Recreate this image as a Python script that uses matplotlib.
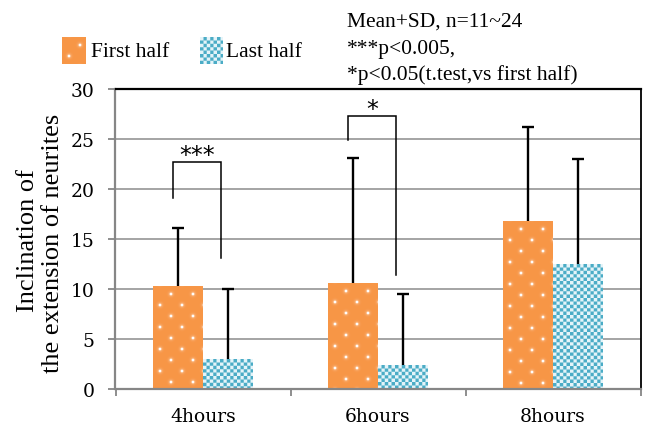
import numpy as np
import matplotlib
matplotlib.use("Agg")
import matplotlib.pyplot as plt

# ---- data -------------------------------------------------------------
categories = ["4hours", "6hours", "8hours"]
series_labels = ["First half", "Last half"]
first_half_mean = [10.3, 10.6, 16.8]
first_half_sd = [5.8, 12.5, 9.4]
last_half_mean = [3.0, 2.4, 12.5]
last_half_sd = [7.0, 7.1, 10.5]
y_ticks = [0, 5, 10, 15, 20, 25, 30]
note_lines = ["Mean+SD, n=11~24", "***p<0.005,", "*p<0.05(t.test,vs first half)"]

# significance brackets (category index, marker, left arm low end, bracket top, right arm low end)
sig_category = [0, 1]
sig_marks = ["***", "*"]
sig_left_low = [19.1, 24.9]
sig_top = [22.7, 27.3]
sig_right_low = [13.1, 11.4]

# ---- style ------------------------------------------------------------
ORANGE = np.array([247, 150, 70]) / 255.0
BLUE = np.array([75, 172, 198]) / 255.0
WHITE = np.array([1.0, 1.0, 1.0])
GRID = "#8c8c8c"
AXIS_GRAY = "#868686"
SERIF = ["Liberation Serif", "DejaVu Serif"]
TICK_FONT = ["DejaVu Serif"]

W, H = 648, 431


def dot_texture(wpx, hpx, ss=4):
    """Orange fill with small glowing white dots on a staggered lattice."""
    ys, xs = np.mgrid[0:hpx * ss, 0:wpx * ss]
    xs = (xs + 0.5) / ss
    ys = (ys + 0.5) / ss
    step = 11.0
    row = np.round((ys - 8.0) / step)
    cy = 8.0 + row * step
    shift = 7.0 + step * ((row.astype(int) + 1) % 2)
    cx = shift + np.round((xs - shift) / (2 * step)) * 2 * step
    d = np.hypot(xs - cx, ys - cy)
    a = np.clip(1.7 - d, 0, 1) * 0.95 + 0.4 * np.exp(-(d / 2.4) ** 2)
    a = np.clip(a, 0, 1)
    a = a.reshape(hpx, ss, wpx, ss).mean(axis=(1, 3))
    img = ORANGE[None, None, :] * (1 - a[..., None]) + WHITE[None, None, :] * a[..., None]
    return img


def checker_texture(wpx, hpx, ss=4, cell=3.4):
    """Small blue / white checkerboard."""
    ys, xs = np.mgrid[0:hpx * ss, 0:wpx * ss]
    xs = (xs + 0.5) / ss
    ys = (ys + 0.5) / ss
    c = ((np.floor(xs / cell) + np.floor(ys / cell)) % 2).astype(float)
    c = c.reshape(hpx, ss, wpx, ss).mean(axis=(1, 3))
    light = np.array([0.90, 0.96, 0.98])
    img = BLUE[None, None, :] * c[..., None] + light[None, None, :] * (1 - c[..., None])
    return img


def apply_texture(ax, patch, maker):
    x0, y0 = patch.get_x(), patch.get_y()
    x1, y1 = x0 + patch.get_width(), y0 + patch.get_height()
    (px0, py0), (px1, py1) = ax.transData.transform([(x0, y0), (x1, y1)])
    wpx = max(1, int(round(px1 - px0)))
    hpx = max(1, int(round(py1 - py0)))
    im = ax.imshow(maker(wpx, hpx), extent=(x0, x1, y0, y1), origin="upper",
                   aspect="auto", interpolation="nearest", zorder=2.5)
    im.set_clip_path(patch)


def upper_errorbar(ax, xs, means, sds):
    zeros = np.zeros(len(means))
    _, caps, _ = ax.errorbar(xs, means, yerr=[zeros, sds], fmt="none", ecolor="black",
                             elinewidth=1.7, capsize=4.5, capthick=1.7, zorder=4)
    # keep only the cap at the top end
    caps[0].set_visible(False)


fig = plt.figure(figsize=(W / 100, H / 100), dpi=100)
ax = fig.add_axes([115.5 / W, (H - 390) / H, 525 / W, 300 / H])
ax.set_xlim(-0.5, 2.5)
ax.set_ylim(0, 30)

x = np.arange(len(categories))
bw = 50 / 175

bars1 = ax.bar(x - bw / 2, first_half_mean, bw, color=ORANGE, linewidth=0, zorder=2)
bars2 = ax.bar(x + bw / 2, last_half_mean, bw, color=BLUE, linewidth=0, zorder=2)
for p in bars1:
    apply_texture(ax, p, dot_texture)
for p in bars2:
    apply_texture(ax, p, checker_texture)

upper_errorbar(ax, x - bw / 2, first_half_mean, first_half_sd)
upper_errorbar(ax, x + bw / 2, last_half_mean, last_half_sd)

# significance brackets
for ci, mark, lo_l, top, lo_r in zip(sig_category, sig_marks, sig_left_low, sig_top, sig_right_low):
    xl = x[ci] - bw / 2 - 0.028
    xr = x[ci] + bw / 2 - 0.04
    ax.plot([xl, xl, xr, xr], [lo_l, top, top, lo_r], color="black", lw=1.1,
            solid_joinstyle="miter", zorder=4)
    ax.annotate(mark, xy=((xl + xr) / 2, top), xytext=(0, -3.5), textcoords="offset points",
                ha="center", va="bottom", fontsize=17, family=["DejaVu Sans"], zorder=5)

ax.set_xlim(-0.5, 2.5)
ax.set_ylim(0, 30)

# grid and frame
ax.set_axisbelow(True)
ax.yaxis.grid(True, color=GRID, linewidth=1.1)
ax.spines["top"].set_color("black")
ax.spines["top"].set_linewidth(1.6)
ax.spines["right"].set_color("black")
ax.spines["right"].set_linewidth(1.3)
ax.spines["left"].set_color(AXIS_GRAY)
ax.spines["left"].set_linewidth(1.6)
ax.spines["bottom"].set_color(AXIS_GRAY)
ax.spines["bottom"].set_linewidth(1.6)

ax.set_yticks(y_ticks)
ax.set_yticklabels([str(v) for v in y_ticks], family=TICK_FONT, fontsize=13.5)
ax.tick_params(axis="y", direction="out", length=5, width=1.3, color=AXIS_GRAY, pad=10)

ax.set_xticks(np.arange(-0.5, len(categories), 1.0))
ax.set_xticklabels([])
ax.set_xticks(x, minor=True)
ax.set_xticklabels(categories, minor=True, family=TICK_FONT, fontsize=13.5)
ax.tick_params(axis="x", which="major", direction="out", length=5, width=1.3, color=AXIS_GRAY)
ax.tick_params(axis="x", which="minor", length=0, pad=13)

# y-axis title in two lines
fig.text(28 / W, (H - 241) / H, "Inclination of", rotation=90, ha="center", va="center",
         fontsize=19, family=SERIF)
fig.text(53 / W, (H - 243) / H, "the extension of neurites", rotation=90, ha="center",
         va="center", fontsize=19, family=SERIF)

# legend
leg1 = fig.add_axes([62 / W, (H - 65) / H, 24 / W, 27 / H])
leg1.imshow(dot_texture(24, 27), aspect="auto", interpolation="nearest")
leg1.axis("off")
fig.text(91 / W, (H - 57) / H, series_labels[0], ha="left", va="baseline", fontsize=15.5, family=SERIF)
leg2 = fig.add_axes([200 / W, (H - 65) / H, 23 / W, 27 / H])
leg2.imshow(checker_texture(23, 27), aspect="auto", interpolation="nearest")
leg2.axis("off")
fig.text(226 / W, (H - 57) / H, series_labels[1], ha="left", va="baseline", fontsize=15.5, family=SERIF)

# statistics note
for line, base in zip(note_lines, [27, 54, 80]):
    fig.text(347 / W, (H - base) / H, line, ha="left", va="baseline", fontsize=15.5, family=SERIF)

fig.savefig("out.png", dpi=100)
